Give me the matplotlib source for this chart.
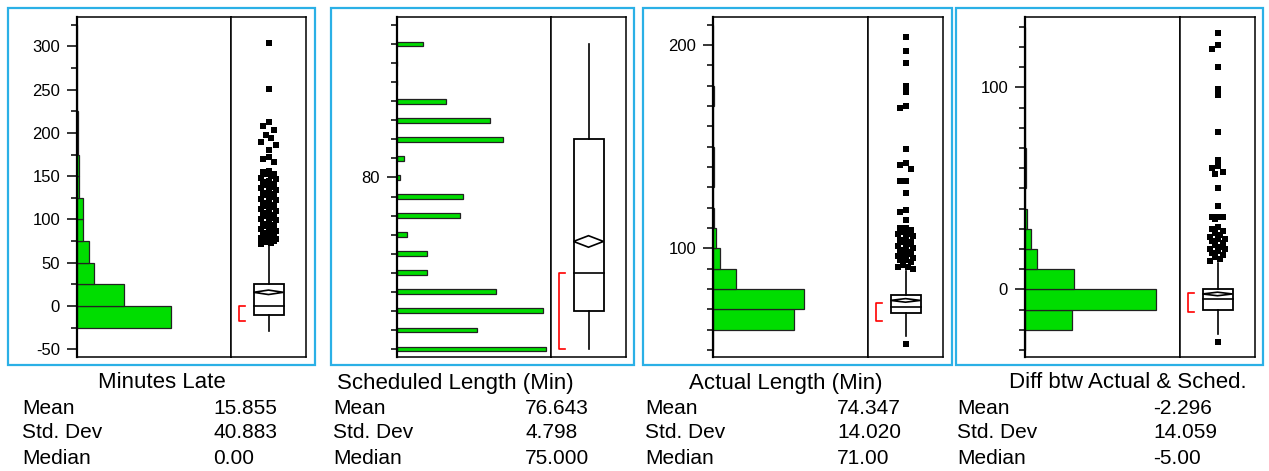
import numpy as np
import matplotlib
matplotlib.use("Agg")
import matplotlib.pyplot as plt
from matplotlib.patches import Rectangle, Polygon

plt.rcParams["font.family"] = ["Liberation Sans", "DejaVu Sans"]
plt.rcParams["axes.unicode_minus"] = False

W, H = 1269, 471

# ---- summary text ----
titles = ["Minutes Late", "Scheduled Length (Min)", "Actual Length (Min)",
          "Diff btw Actual & Sched."]
mean_txt = ["15.855", "76.643", "74.347", "-2.296"]
std_txt = ["40.883", "4.798", "14.020", "14.059"]
median_txt = ["0.00", "75.000", "71.00", "-5.00"]

# ---- histograms (bin lower edges, counts) ----
late_bins = [-25, 0, 25, 50, 75, 100, 125, 150, 175, 200, 225, 250, 275, 300]
late_counts = [470, 237, 87, 60, 28, 28, 10, 10, 4, 3, 0, 1, 0, 1]

sched_vals = [71, 72, 73, 74, 75, 76, 77, 78, 79, 80, 81, 82, 83, 84, 85, 86, 87]
sched_counts = [151, 81, 148, 101, 30, 30, 10, 64, 67, 3, 7, 108, 94, 50, 0, 0, 26]

actual_bins = [50, 60, 70, 80, 90, 100, 110, 120, 130, 140, 150, 160, 170, 180, 190, 200]
actual_counts = [1, 400, 450, 112, 37, 13, 6, 2, 4, 4, 0, 2, 3, 0, 2, 1]

diff_bins = [-30, -20, -10, 0, 10, 20, 30, 40, 50, 60, 70, 80, 90, 100, 110, 120]
diff_counts = [2, 235, 653, 243, 62, 28, 9, 2, 3, 3, 1, 0, 2, 0, 2, 1]

# ---- box plot summaries ----
q1 = [-10, 73, 68, -10]
q2 = [0, 75, 71, -5]
q3 = [25, 82, 77, 0]
wlo = [-29, 71, 57, -22]
whi = [71, 87, 89, 13]
means = [15.855, 76.643, 74.347, -2.296]
sds = [40.883, 4.798, 14.020, 14.059]
n_obs = 970
short_half = [(-17, 0), (71, 75), (64, 73), (-11, -2)]

late_out = [304, 251, 213, 208, 203, 198, 194, 190, 186, 180, 172, 170, 167,
            156, 155, 153, 152, 150, 148, 147, 145, 143, 141, 140, 138, 136,
            134, 133, 131, 129, 128, 126, 124, 122, 121, 119, 117, 116, 114,
            112, 110, 109, 107, 105, 104, 102, 100, 99, 97, 95, 94, 92, 90,
            89, 87, 86, 84, 83, 81, 80, 79, 78, 77, 76, 75, 74, 73, 72]
sched_out = []
actual_out = [204, 197, 191, 180, 177, 170, 169, 149, 142, 141, 139, 133, 133,
              127, 119, 118, 114, 110, 110, 109, 108, 107, 107, 106, 105, 104,
              103, 103, 102, 101, 100, 100, 99, 98, 97, 97, 96, 95, 94, 94,
              93, 92, 91, 91, 90, 53]
diff_out = [127, 121, 119, 110, 99, 96, 78, 64, 61, 60, 58, 57, 50, 41, 36,
            36, 36, 35, 31, 30, 29, 28, 27, 26, 25, 25, 24, 23, 22, 21, 20,
            20, 19, 18, 17, 16, 15, 14, -26]

# ---- layout (pixels) ----
frames = [(8, 315), (331, 634), (643, 952), (956, 1263)]
hist_left = [77, 397, 713, 1025]
divider = [231, 551, 868, 1180]
right = [306, 626, 943, 1255]
ax_top, ax_bot = 17, 357
ylims = [(-58.9, 334), (70.58, 88.42), (46.5, 213.8), (-33.5, 134.8)]
xmax = [770, 156.4, 770, 770]
major = [list(range(-50, 301, 50)), [80], [100, 200], [0, 100]]
minor = [list(range(-25, 326, 50)),
         [v for v in range(71, 89) if v != 80],
         [v for v in range(50, 211, 10) if v not in (100, 200)],
         [v for v in range(-30, 131, 10) if v not in (0, 100)]]
label_x = [22, 333, 645, 957]
value_x = [213, 525, 837, 1153]
title_cx = [162, 455, 786, 1128]

GREEN = "#00DD00"
BLUE = "#2BB0E6"


def fig_rect(x0, x1, y0, y1):
    return [x0 / W, 1 - y1 / H, (x1 - x0) / W, (y1 - y0) / H]


def spread(vals, ylim):
    # horizontal offsets (in box-axes units) so that close points do not overlap
    px_per_unit = (ax_bot - ax_top) / (ylim[1] - ylim[0])
    pattern = [0, -0.07, 0.07, -0.035, 0.035, -0.1, 0.1]
    order = np.argsort(vals)[::-1]
    offs = np.zeros(len(vals))
    prev, k = None, 0
    for i in order:
        if prev is not None and (prev - vals[i]) * px_per_unit < 4.5:
            k += 1
        else:
            k = 0
        offs[i] = pattern[k % len(pattern)]
        prev = vals[i]
    return offs


fig = plt.figure(figsize=(W / 100, H / 100), dpi=100)

hists = [(late_bins, late_counts, 25), None,
         (actual_bins, actual_counts, 10), (diff_bins, diff_counts, 10)]
outs = [late_out, sched_out, actual_out, diff_out]

for p in range(4):
    fx0, fx1 = frames[p]
    fig.patches.append(Rectangle((fx0 / W, 1 - 365 / H), (fx1 - fx0) / W,
                                 (365 - 8) / H, transform=fig.transFigure,
                                 fill=False, edgecolor=BLUE, lw=1.6))

    axh = fig.add_axes(fig_rect(hist_left[p], divider[p], ax_top, ax_bot))
    axb = fig.add_axes(fig_rect(divider[p], right[p], ax_top, ax_bot))

    if hists[p] is not None:
        bins, counts, bw = hists[p]
        axh.barh(bins, counts, height=bw, align="edge", color=GREEN,
                 edgecolor="#222222", lw=0.9)
    else:
        axh.barh(sched_vals, sched_counts, height=0.25, align="center",
                 color=GREEN, edgecolor="#222222", lw=0.9)

    axh.set_xlim(0, xmax[p])
    axh.set_ylim(*ylims[p])
    axh.set_xticks([])
    axh.set_yticks(major[p])
    axh.set_yticks(minor[p], minor=True)
    axh.tick_params(axis="y", which="major", length=7.2, width=1.1, pad=5,
                    labelsize=12)
    axh.tick_params(axis="y", which="minor", length=4.3, width=1.1)
    for s in ["top", "bottom", "right"]:
        axh.spines[s].set_linewidth(1.1)
    axh.spines["left"].set_linewidth(1.6)

    axb.set_xlim(0, 1)
    axb.set_ylim(*ylims[p])
    axb.set_xticks([])
    axb.set_yticks([])
    for s in axb.spines.values():
        s.set_linewidth(1.1)

    c, hw = 0.5, 0.2
    kw = dict(color="black", lw=1.2)
    axb.plot([c, c], [q3[p], whi[p]], **kw)
    axb.plot([c, c], [wlo[p], q1[p]], **kw)
    axb.add_patch(Rectangle((c - hw, q1[p]), 2 * hw, q3[p] - q1[p],
                            fill=False, edgecolor="black", lw=1.3))
    axb.plot([c - hw, c + hw], [q2[p], q2[p]], **kw)
    ci = 1.96 * sds[p] / np.sqrt(n_obs)
    axb.add_patch(Polygon([(c - hw, means[p]), (c, means[p] + ci),
                           (c + hw, means[p]), (c, means[p] - ci)],
                          closed=True, fill=False, edgecolor="black", lw=1.2))
    lo, hi = short_half[p]
    axb.plot([0.18, 0.1, 0.1, 0.18], [hi, hi, lo, lo], color="red", lw=1.2)

    if outs[p]:
        vals = np.array(outs[p], dtype=float)
        axb.plot(c + spread(vals, ylims[p]), vals, "s", color="black", ms=4.2,
                 mew=0, clip_on=False)

    # summary text below the panel
    fig.text(title_cx[p] / W, 1 - 383 / H, titles[p], ha="center", va="center",
             fontsize=16)
    for r, (lab, val) in enumerate(zip(["Mean", "Std. Dev", "Median"],
                                       [mean_txt[p], std_txt[p], median_txt[p]])):
        y = 1 - (408 + 25 * r) / H
        fig.text(label_x[p] / W, y, lab, ha="left", va="center", fontsize=15)
        fig.text(value_x[p] / W, y, val, ha="left", va="center", fontsize=15)

fig.savefig("out.png", dpi=100)
